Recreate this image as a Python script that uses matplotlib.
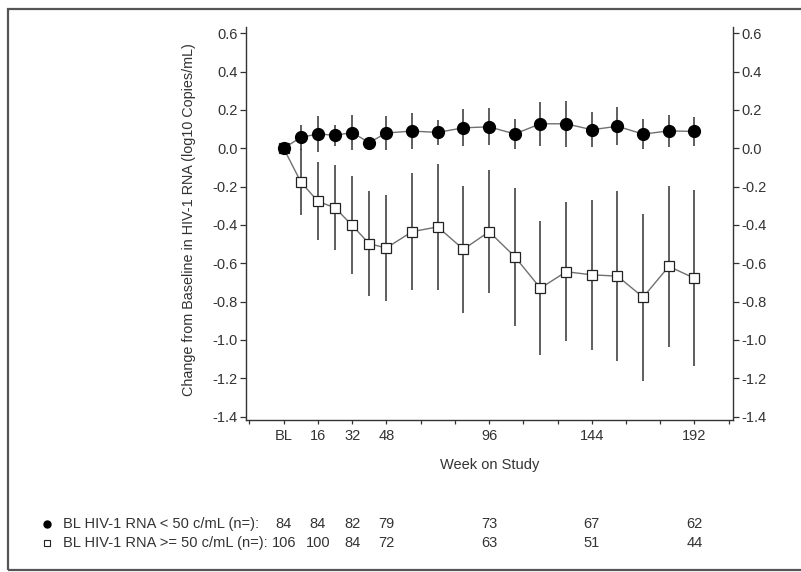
import matplotlib
matplotlib.use("Agg")
import matplotlib.pyplot as plt
from matplotlib.lines import Line2D
from matplotlib.patches import Rectangle
from matplotlib.transforms import blended_transform_factory

plt.rcParams['font.family'] = ['Liberation Sans', 'DejaVu Sans']

weeks = [0, 8, 16, 24, 32, 40, 48, 60, 72, 84, 96, 108, 120, 132, 144, 156, 168, 180, 192]
mean_lt50 = [0.0, 0.057, 0.075, 0.068, 0.082, 0.030, 0.080, 0.090, 0.083, 0.107, 0.112,
             0.075, 0.128, 0.128, 0.097, 0.115, 0.074, 0.091, 0.088]
sd_lt50 = [0.0, 0.065, 0.095, 0.055, 0.090, 0.030, 0.090, 0.092, 0.067, 0.096, 0.097,
           0.076, 0.116, 0.120, 0.090, 0.100, 0.078, 0.082, 0.076]
mean_ge50 = [0.0, -0.175, -0.277, -0.310, -0.402, -0.498, -0.520, -0.435, -0.410, -0.527, -0.435,
             -0.565, -0.730, -0.644, -0.660, -0.667, -0.777, -0.616, -0.678]
sd_ge50 = [0.0, 0.173, 0.203, 0.223, 0.255, 0.275, 0.277, 0.306, 0.330, 0.330, 0.320,
           0.360, 0.350, 0.363, 0.390, 0.444, 0.435, 0.420, 0.460]

n_weeks = [0, 16, 32, 48, 96, 144, 192]
n_lt50 = [84, 84, 82, 79, 73, 67, 62]
n_ge50 = [106, 100, 84, 72, 63, 51, 44]

xtick_pos = [-16, 0, 16, 32, 48, 64, 80, 96, 112, 128, 144, 160, 176, 192, 208]
xtick_lab = ['', 'BL', '16', '32', '48', '', '', '96', '', '', '144', '', '', '192', '']
ytick_pos = [0.6, 0.4, 0.2, 0.0, -0.2, -0.4, -0.6, -0.8, -1.0, -1.2, -1.4]

label_lt50 = 'BL HIV-1 RNA < 50 c/mL (n=):'
label_ge50 = 'BL HIV-1 RNA >= 50 c/mL (n=):'

W, H = 801, 572
fig = plt.figure(figsize=(W / 100, H / 100), dpi=100)
ax = fig.add_axes([246 / W, 1 - 419.5 / H, (733 - 246) / W, (419.5 - 27) / H])

txt = '#333333'
ax.errorbar(weeks, mean_ge50, yerr=sd_ge50, fmt='none', ecolor='#333333', elinewidth=1.1, capsize=0, zorder=2)
ax.errorbar(weeks, mean_lt50, yerr=sd_lt50, fmt='none', ecolor='#333333', elinewidth=1.1, capsize=0, zorder=2)
ax.plot(weeks, mean_ge50, color='#707070', lw=1.0, marker='s', markersize=7.2,
        markerfacecolor='white', markeredgecolor='#222222', markeredgewidth=0.9, zorder=3)
ax.plot(weeks, mean_lt50, color='#707070', lw=1.0, marker='o', markersize=8.5,
        markerfacecolor='black', markeredgecolor='black', zorder=4)

ax.set_xlim(-17.6, 210)
ax.set_ylim(-1.415, 0.633)
ax.set_xticks(xtick_pos)
ax.set_xticklabels(xtick_lab)
ax.set_yticks(ytick_pos)
ax.set_yticklabels([f'{v:.1f}' for v in ytick_pos])
ax.tick_params(axis='y', direction='out', length=4, width=0.9, colors='#333333', labelsize=10.5,
               pad=2, right=True, labelright=True)
ax.tick_params(axis='x', direction='out', length=3, width=0.9, colors='#333333', labelsize=10.5, pad=4)
for s in ['left', 'right', 'bottom']:
    ax.spines[s].set_color('#333333')
    ax.spines[s].set_linewidth(1.0)
ax.spines['top'].set_visible(False)

ax.set_xlabel('Week on Study', fontsize=10.5, color=txt, labelpad=11)
ax.set_ylabel('Change from Baseline in HIV-1 RNA (log10 Copies/mL)', fontsize=10.4, color=txt)
ax.yaxis.set_label_coords(-0.102, 0.51)

# outer frame
fig.add_artist(Rectangle((8 / W, 2 / H), 1.2, (570 - 9) / H, transform=fig.transFigure,
                         fill=False, edgecolor='#555555', lw=1.6))

# n table
tr = blended_transform_factory(ax.transData, fig.transFigure)
y1 = 1 - 524 / H
y2 = 1 - 543 / H
fig.add_artist(Line2D([47 / W], [y1], marker='o', markersize=5, color='black',
                      markerfacecolor='black', transform=fig.transFigure))
fig.add_artist(Line2D([47 / W], [y2], marker='s', markersize=5, color='#222222',
                      markerfacecolor='white', markeredgewidth=0.8, transform=fig.transFigure))
fig.text(63 / W, y1, label_lt50, fontsize=10.5, color=txt, va='center', ha='left')
fig.text(63 / W, y2, label_ge50, fontsize=10.5, color=txt, va='center', ha='left')
for wk, a, b in zip(n_weeks, n_lt50, n_ge50):
    ax.text(wk, y1, str(a), transform=tr, fontsize=10.5, color=txt, va='center', ha='center')
    ax.text(wk, y2, str(b), transform=tr, fontsize=10.5, color=txt, va='center', ha='center')

fig.savefig('out.png', dpi=100, facecolor='white')
